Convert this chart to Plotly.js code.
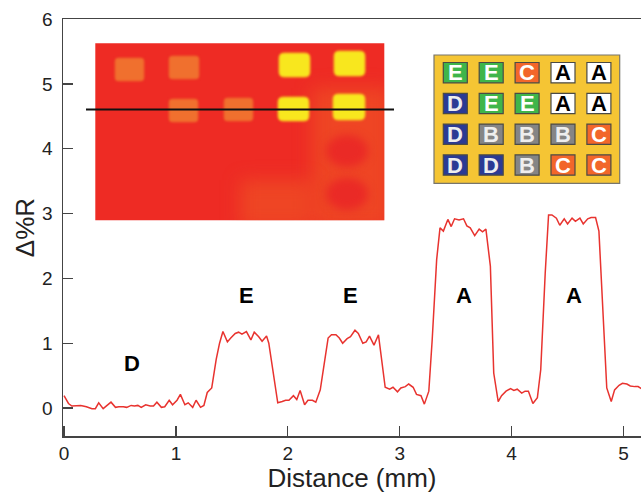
<!DOCTYPE html>
<html>
<head>
<meta charset="utf-8">
<script src="https://cdn.plot.ly/plotly-3.0.1.min.js"></script>
<style>html,body{margin:0;padding:0;background:#fff}#chart{width:641px;height:493px}</style>
</head>
<body>
<div id="chart"></div>
<script>
// Line profile
var distance = [0,.04,.07,.11,.15,.20,.25,.28,.31,.35,.38,.42,.46,.49,.53,.56,.60,.63,.66,.69,.73,.77,.80,.83,.87,.90,.94,.97,1.01,1.04,1.08,1.11,1.15,1.18,1.22,1.25,1.28,1.32,1.36,1.39,1.42,1.46,1.49,1.53,1.56,1.59,1.63,1.67,1.70,1.74,1.77,1.81,1.83,1.87,1.91,1.95,1.98,2.01,2.05,2.08,2.11,2.15,2.18,2.22,2.25,2.29,2.32,2.36,2.39,2.43,2.46,2.49,2.53,2.56,2.60,2.63,2.67,2.70,2.73,2.77,2.81,2.84,2.87,2.91,2.94,2.98,3.01,3.05,3.08,3.12,3.15,3.19,3.22,3.26,3.29,3.33,3.36,3.39,3.43,3.46,3.49,3.53,3.57,3.60,3.63,3.67,3.71,3.74,3.77,3.81,3.84,3.88,3.91,3.95,3.99,4.02,4.05,4.09,4.12,4.15,4.19,4.23,4.26,4.30,4.33,4.36,4.40,4.43,4.47,4.50,4.54,4.57,4.61,4.64,4.68,4.71,4.75,4.78,4.82,4.85,4.89,4.92,4.96,4.99,5.03,5.06,5.10,5.13,5.16];
var deltaR = [.19,.07,.03,.04,.04,.02,-.01,-.01,.08,-.01,.03,.09,.01,.02,.02,.01,.04,.03,.04,.01,.05,.03,.03,.09,.01,.02,.12,.05,.12,.21,.05,.08,.01,.12,.01,.04,.24,.31,.75,1.00,1.18,1.02,1.08,1.15,1.17,1.14,1.18,1.05,1.17,1.10,1.03,1.11,1.00,.51,.08,.10,.12,.12,.19,.13,.27,.05,.12,.12,.09,.28,.64,1.08,1.13,1.13,1.08,1.00,1.07,1.10,1.20,1.15,1.00,1.02,1.11,.97,1.13,.75,.32,.29,.32,.25,.31,.33,.37,.32,.21,.19,.06,.26,1.05,2.29,2.78,2.73,2.91,2.80,2.92,2.90,2.92,2.81,2.78,2.66,2.76,2.72,2.76,2.19,.54,.10,.19,.26,.30,.27,.29,.23,.26,.26,.07,.16,.59,2.08,2.98,2.98,2.93,2.82,2.92,2.84,2.93,2.88,2.93,2.84,2.92,2.94,2.94,2.73,1.41,.31,.10,.28,.35,.38,.37,.34,.33,.33,.30];

// Labels over the profile
var peakLabels = ["D","E","E","A","A"];
var peakX = [0.61,1.63,2.56,3.57,4.56];
var peakY = [0.68,1.74,1.74,1.74,1.74];

// Key panel
var keyGrid = [["E","E","C","A","A"],["D","E","E","A","A"],["D","B","B","B","C"],["D","D","B","C","C"]];
var keyFill = {A:"#ffffff",B:"#858585",C:"#f2662a",D:"#2b3a94",E:"#3fb54a"};
var keyText = {A:"#000000",B:"#eeeeee",C:"#ffffff",D:"#eeeeee",E:"#ffffff"};

// Photo inset spots, pixel boxes [left, right, top, bottom]
var glowZones = [[312,392,88,228],[240,312,180,228]];
var faintSpots = [[115,144,58,81],[169,199,56,79],[169,198,99,122],[224,253,98,121]];
var brightSpots = [[279,310,53,77],[334,365,51,76],[278,309,97,121],[333,365,94,120]];
var darkSpots = [[326,368,135,167],[326,368,178,210]];

var W=641,H=493,L=63,T=19,B=436;
function px(x){return (x-L)/(W-L);}
function py(y){return 1-(y-T)/(B-T);}
function box(b,fill,line,lw){return {type:"rect",xref:"paper",yref:"paper",x0:px(b[0]),x1:px(b[1]),y0:py(b[3]),y1:py(b[2]),fillcolor:fill,line:{color:line||fill,width:lw===undefined?0:lw}};}
function rounded(b,r,fill,line,lw){
  var l=px(b[0]),R=px(b[1]),t=py(b[2]),bo=py(b[3]),rx=r/(W-L),ry=r/(B-T);
  var d="M"+(l+rx)+","+t+" L"+(R-rx)+","+t+" Q"+R+","+t+" "+R+","+(t-ry)+" L"+R+","+(bo+ry)+" Q"+R+","+bo+" "+(R-rx)+","+bo+" L"+(l+rx)+","+bo+" Q"+l+","+bo+" "+l+","+(bo+ry)+" L"+l+","+(t-ry)+" Q"+l+","+t+" "+(l+rx)+","+t+" Z";
  return {type:"path",xref:"paper",yref:"paper",path:d,fillcolor:fill,line:{color:line,width:lw}};
}
var shapes=[], annotations=[];
// photo; blur recipe noted per shape index range
shapes.push(box([95.3,384.3,43.3,220.3],"#ee2b24"));
var softStart=shapes.length;
glowZones.forEach(function(z){shapes.push(box(z,"rgba(240,95,35,0.5)"));});
darkSpots.forEach(function(s){
  shapes.push({type:"circle",xref:"paper",yref:"paper",x0:px(s[0]),x1:px(s[1]),y0:py(s[3]),y1:py(s[2]),fillcolor:"#ea2a26",line:{width:0}});
});
var softEnd=shapes.length;
faintSpots.forEach(function(s){shapes.push(rounded(s,3,"#f0702e","#ee5a2a",0.8));});
brightSpots.forEach(function(s){shapes.push(rounded(s,5,"#f8e71e","#f6b020",1));});
var spotEnd=shapes.length;
shapes.push({type:"line",xref:"paper",yref:"paper",x0:px(86),x1:px(394),y0:py(109.5),y1:py(109.5),line:{color:"#111111",width:1.8}});
// key panel
shapes.push(box([434,619.7,55,183.3],"#f5c534","#77756c",1.2));
keyGrid.forEach(function(row,r){
  row.forEach(function(ch,c){
    var x0=443.3+c*35.9, y0=62.5+r*30.8;
    shapes.push(box([x0,x0+24,y0,y0+20.3],keyFill[ch],"#4a4a45",1.2));
    annotations.push({xref:"paper",yref:"paper",x:px(x0+12),y:py(y0+10.4),text:ch,showarrow:false,xanchor:"center",yanchor:"middle",font:{family:"Liberation Sans, Arial, sans-serif",size:22,color:keyText[ch],weight:700}});
  });
});
peakLabels.forEach(function(t,i){
  annotations.push({x:peakX[i],y:peakY[i],xref:"x",yref:"y",text:t,showarrow:false,xanchor:"center",yanchor:"middle",font:{family:"Liberation Sans, Arial, sans-serif",size:22,color:"#000",weight:700}});
});
var axisFont={family:"Liberation Sans, Arial, sans-serif",size:19,color:"#222"};
var titleFont={family:"Liberation Sans, Arial, sans-serif",size:26,color:"#222"};
Plotly.newPlot("chart",[{x:distance,y:deltaR,type:"scatter",mode:"lines",line:{color:"#e8332f",width:1.5},hoverinfo:"skip",showlegend:false}],{
  width:W,height:H,margin:{l:L,r:0,t:T,b:H-B,pad:0},paper_bgcolor:"#fff",plot_bgcolor:"#fff",showlegend:false,
  xaxis:{range:[-0.009,5.156],tickvals:[0,1,2,3,4,5],ticks:"inside",ticklen:10,tickwidth:1.3,tickcolor:"#444",showline:true,linecolor:"#444",linewidth:1.5,mirror:true,zeroline:false,showgrid:false,tickfont:axisFont,title:{text:"Distance (mm)",font:titleFont,standoff:21}},
  yaxis:{range:[-0.432,6.003],tickvals:[0,1,2,3,4,5,6],ticks:"inside",ticklen:10,tickwidth:1.3,tickcolor:"#444",showline:true,linecolor:"#444",linewidth:1.5,zeroline:false,showgrid:false,tickfont:axisFont,ticklabelstandoff:5,title:{text:"Δ%R",font:titleFont,standoff:0}},
  shapes:shapes,annotations:annotations
},{displayModeBar:false,staticPlot:true}).then(function(gd){
  // soften the photo inset, which is a blurry picture in the reference
  var svg=gd.querySelector("svg.main-svg");
  var ns="http://www.w3.org/2000/svg";
  var defs=svg.querySelector("defs");
  var cp=document.createElementNS(ns,"clipPath"); cp.setAttribute("id","photoClip"); cp.setAttribute("clipPathUnits","userSpaceOnUse");
  var rc=document.createElementNS(ns,"rect"); rc.setAttribute("x",95.3);rc.setAttribute("y",43.3);rc.setAttribute("width",289);rc.setAttribute("height",177);
  cp.appendChild(rc); defs.appendChild(cp);
  for(var i=softStart;i<spotEnd;i++){
    var p=gd.querySelector('.shapelayer path[data-index="'+i+'"]');
    if(!p) continue;
    p.style.filter=i<softEnd?"blur("+(i<softStart+glowZones.length?9:4)+"px)":"blur(0.8px)";
    var g=document.createElementNS(ns,"g"); g.setAttribute("clip-path","url(#photoClip)");
    p.parentNode.insertBefore(g,p); g.appendChild(p);
  }
});
</script>
</body>
</html>
